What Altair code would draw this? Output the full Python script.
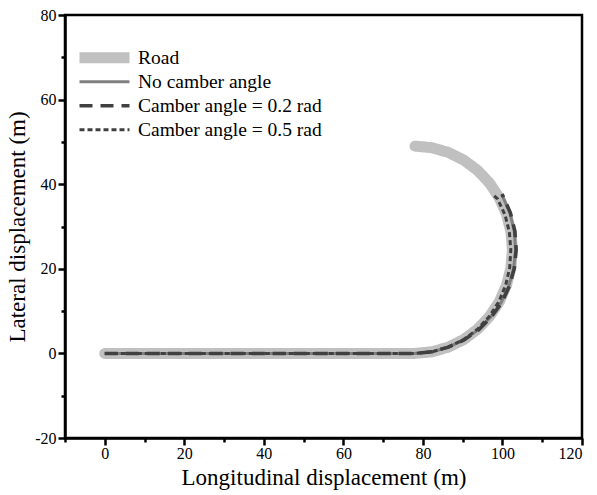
import altair as alt
import pandas as pd

# Road centreline: straight section then a semicircular bend
road_x = [0, 78, 82.25, 86.38, 90.25, 93.75, 96.77, 99.22, 101.02, 102.13, 102.5,
          102.13, 101.02, 99.22, 96.77, 93.75, 90.25, 86.38, 82.25, 78.0]
road_y = [0, 0, 0.37, 1.48, 3.28, 5.73, 8.75, 12.25, 16.12, 20.25, 24.5,
          28.75, 32.88, 36.75, 40.25, 43.27, 45.72, 47.52, 48.63, 49.0]

# Vehicle trajectories
nocamber_x = [0, 78, 82.25, 86.38, 90.3, 93.88, 97.0, 99.65, 101.59, 102.82, 103.3,
              102.97, 101.87, 100.0, 99.8]
nocamber_y = [0, 0, 0.37, 1.48, 3.2, 5.58, 8.56, 12.0, 15.92, 20.12, 24.5,
              28.9, 33.19, 37.2, 37.6]

camber02_x = [0, 78, 82.25, 86.38, 90.32, 93.95, 97.1, 99.78, 101.73, 102.97, 103.45,
              103.12, 102.0, 100.1, 99.9]
camber02_y = [0, 0, 0.37, 1.48, 3.18, 5.5, 8.47, 11.93, 15.87, 20.1, 24.5,
              28.93, 33.24, 37.27, 37.7]

camber05_x = [0, 78, 82.25, 86.38, 90.25, 93.75, 96.73, 99.13, 100.83, 101.83, 102.1,
              101.73, 100.65, 98.78, 97.5]
camber05_y = [0, 0, 0.37, 1.48, 3.28, 5.73, 8.78, 12.3, 16.19, 20.3, 24.5,
              28.68, 32.74, 36.5, 37.6]

series_names = ["Road", "No camber angle", "Camber angle = 0.2 rad", "Camber angle = 0.5 rad"]
series_colors = ["#c0c0c0", "#808080", "#404040", "#404040"]
series_widths = [11, 3, 3.5, 3]
series_dashes = [[1, 0], [1, 0], [13, 8], [5, 3]]


def frame(name, xs, ys):
    return pd.DataFrame({"x": xs, "y": ys, "series": name, "i": range(len(xs))})


road_df = frame(series_names[0], road_x, road_y)
traj_df = pd.concat([
    frame(series_names[1], nocamber_x, nocamber_y),
    frame(series_names[2], camber02_x, camber02_y),
    frame(series_names[3], camber05_x, camber05_y),
])

FONT = "Liberation Serif"

x_axis = alt.Axis(
    values=list(range(-10, 121, 10)),
    labelExpr="datum.value % 20 == 0 && datum.value >= 0 ? '' + datum.value : ''",
    tickSize={"condition": {"test": "datum.value % 20 == 0", "value": 7}, "value": 4},
    title="Longitudinal displacement (m)",
    titleFontSize=23,
    labelPadding=0,
    titlePadding=5,
    grid=False,
)
y_axis = alt.Axis(
    values=list(range(-20, 81, 10)),
    labelExpr="datum.value % 20 == 0 ? '' + datum.value : ''",
    tickSize={"condition": {"test": "datum.value % 20 == 0", "value": 7}, "value": 4},
    title="Lateral displacement (m)",
    titleFontSize=23,
    labelPadding=2,
    titlePadding=5,
    grid=False,
)

x_enc = alt.X("x:Q", scale=alt.Scale(domain=[-10, 120], nice=False, zero=False), axis=x_axis)
y_enc = alt.Y("y:Q", scale=alt.Scale(domain=[-20, 80], nice=False, zero=False), axis=y_axis)

legend = alt.Legend(
    title=None,
    orient="none",
    legendX=9,
    legendY=31,
    symbolType="stroke",
    symbolSize=2500,
    clipHeight=23.5,
    rowPadding=0,
    labelOffset=3,
    labelFont=FONT,
    labelFontSize=19.5,
    labelColor="black",
    labelLimit=400,
)

color_enc = alt.Color("series:N", scale=alt.Scale(domain=series_names, range=series_colors), legend=legend)
dash_enc = alt.StrokeDash("series:N", scale=alt.Scale(domain=series_names, range=series_dashes), legend=legend)
width_enc = alt.StrokeWidth(
    "series:N",
    scale=alt.Scale(type="ordinal", domain=series_names, range=series_widths),
    legend=legend,
)

road = alt.Chart(road_df).mark_line(strokeCap="round").encode(
    x=x_enc, y=y_enc, order="i:Q", color=color_enc, strokeDash=dash_enc, strokeWidth=width_enc
)
trajectories = alt.Chart(traj_df).mark_line().encode(
    x=x_enc, y=y_enc, order="i:Q", detail="series:N",
    color=color_enc, strokeDash=dash_enc, strokeWidth=width_enc
)

chart = (
    alt.layer(road, trajectories)
    .properties(
        width=517,
        height=423,
        autosize=alt.AutoSizeParams(type="none"),
        padding={"left": 65, "top": 15, "right": 15, "bottom": 57},
    )
    .configure_view(stroke="black", strokeWidth=2.5)
    .configure_axis(
        domainColor="black",
        domainWidth=2.5,
        tickColor="black",
        tickWidth=2.5,
        labelFont=FONT,
        labelFontSize=16,
        labelColor="black",
        titleFont=FONT,
        titleFontWeight="normal",
        titleColor="black",
    )
)

chart.save("out.html", embed_options={"renderer": "svg", "actions": False})
